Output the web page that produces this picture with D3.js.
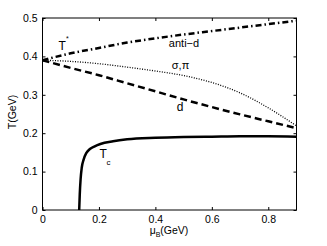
<!DOCTYPE html>
<html><head><meta charset="utf-8">
<script src="https://cdn.jsdelivr.net/npm/d3@7"></script>
<style>
html,body{margin:0;padding:0;background:#fff;}
svg{display:block;font-family:"Liberation Sans",Arial,Helvetica,sans-serif;}
</style></head>
<body>
<svg id="chart" width="327" height="246"></svg>
<script>
// Data (mu_B in GeV, T in GeV)
const antiD_mu = [0, 0.1, 0.2, 0.3, 0.4, 0.5, 0.6, 0.7, 0.8, 0.9];
const antiD_T  = [0.39, 0.408, 0.422, 0.436, 0.447, 0.457, 0.466, 0.475, 0.484, 0.493];
const sigmaPi_mu = [0, 0.1, 0.2, 0.3, 0.4, 0.5, 0.6, 0.7, 0.8, 0.9];
const sigmaPi_T  = [0.39, 0.387, 0.381, 0.372, 0.362, 0.35, 0.332, 0.305, 0.266, 0.219];
const d_mu = [0, 0.1, 0.2, 0.3, 0.4, 0.5, 0.6, 0.7, 0.8, 0.9];
const d_T  = [0.39, 0.37, 0.351, 0.33, 0.309, 0.288, 0.268, 0.249, 0.231, 0.213];
const tc_mu = [0.13, 0.132, 0.135, 0.139, 0.146, 0.155, 0.168, 0.185, 0.205, 0.25, 0.3, 0.4, 0.5, 0.6, 0.7, 0.8, 0.9];
const tc_T  = [0, 0.04, 0.08, 0.11, 0.132, 0.148, 0.159, 0.166, 0.172, 0.179, 0.184, 0.188, 0.19, 0.191, 0.192, 0.192, 0.191];
const xTicks = [0, 0.2, 0.4, 0.6, 0.8];
const yTicks = [0, 0.1, 0.2, 0.3, 0.4, 0.5];

const svg = d3.select("#chart");
const x = d3.scaleLinear().domain([0, 0.9]).range([42.5, 296.5]);
const y = d3.scaleLinear().domain([0, 0.5]).range([210, 18]);

const fmt = d => d === 0 ? "0" : d3.format(".1f")(d);

const gx = svg.append("g").attr("transform", `translate(0,${y(0)})`)
  .call(d3.axisBottom(x).tickValues(xTicks).tickFormat(fmt).tickSizeInner(-3).tickSizeOuter(0).tickPadding(6));
const gy = svg.append("g").attr("transform", `translate(${x(0)},0)`)
  .call(d3.axisLeft(y).tickValues(yTicks).tickFormat(fmt).tickSizeInner(-3).tickSizeOuter(0).tickPadding(5));
const gt = svg.append("g").attr("transform", `translate(0,${y(0.5)})`)
  .call(d3.axisTop(x).tickValues(xTicks).tickFormat("").tickSizeInner(-3).tickSizeOuter(0));
const gr = svg.append("g").attr("transform", `translate(${x(0.9)},0)`)
  .call(d3.axisRight(y).tickValues(yTicks).tickFormat("").tickSizeInner(-3).tickSizeOuter(0));
[gx, gy, gt, gr].forEach(g => {
  g.select(".domain").remove();
  g.selectAll("text").attr("font-size", 10.5).attr("fill", "#000").attr("font-family", "\"Liberation Sans\",Arial,sans-serif");
  g.selectAll("line").attr("stroke", "#000");
});

svg.append("rect").attr("x", x(0)).attr("y", y(0.5))
  .attr("width", x(0.9) - x(0)).attr("height", y(0) - y(0.5))
  .attr("fill", "none").attr("stroke", "#000").attr("stroke-width", 1);

const line = d3.line().x(d => x(d[0])).y(d => y(d[1])).curve(d3.curveMonotoneX);
const zip = (a, b) => a.map((v, i) => [v, b[i]]);

const plotG = svg.append("g");
plotG.append("path").datum(zip(antiD_mu, antiD_T)).attr("d", line)
  .attr("fill", "none").attr("stroke", "#000").attr("stroke-width", 2.5)
  .attr("stroke-dasharray", "6,3,1.5,3");
plotG.append("path").datum(zip(sigmaPi_mu, sigmaPi_T)).attr("d", line)
  .attr("fill", "none").attr("stroke", "#000").attr("stroke-width", 1.3)
  .attr("stroke-dasharray", "1,1.5");
plotG.append("path").datum(zip(d_mu, d_T)).attr("d", line)
  .attr("fill", "none").attr("stroke", "#000").attr("stroke-width", 2.5)
  .attr("stroke-dasharray", "7,4");
plotG.append("path").datum(zip(tc_mu, tc_T)).attr("d", line)
  .attr("fill", "none").attr("stroke", "#000").attr("stroke-width", 2.5);

// Labels
const lab = (tx, ty, s, size, anchor) => svg.append("text").attr("x", tx).attr("y", ty)
  .attr("font-size", size).attr("text-anchor", anchor || "start").attr("fill", "#000").text(s);

lab(58.5, 49.5, "T", 12);
lab(66, 41, "*", 7);
lab(184, 47, "anti−d", 11, "middle");
lab(180.5, 69, "σ,π", 11, "middle");
lab(180, 110.5, "d", 12, "middle");
lab(99.5, 158, "T", 12);
lab(106.5, 164.5, "c", 8);

// Axis titles
const xt = svg.append("text").attr("x", 169).attr("y", 234).attr("text-anchor", "middle")
  .attr("font-size", 10.5).attr("fill", "#000");
xt.append("tspan").text("μ");
xt.append("tspan").attr("font-size", 7).attr("dy", 3).text("B");
xt.append("tspan").attr("dy", -3).text("(GeV)");

svg.append("text").attr("transform", "translate(16,112) rotate(-90)")
  .attr("text-anchor", "middle").attr("font-size", 10.5).attr("fill", "#000").text("T(GeV)");
</script>
</body></html>
